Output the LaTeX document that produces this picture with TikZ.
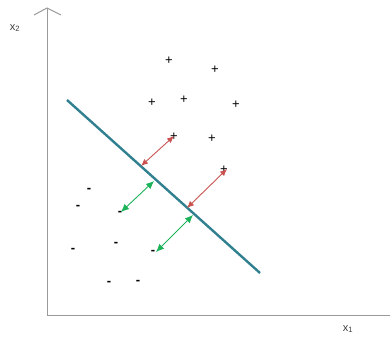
\documentclass[tikz,border=0pt]{standalone}
\usepackage{fontspec}
\setmainfont{Liberation Sans}
\usetikzlibrary{arrows.meta}
\definecolor{axisgray}{HTML}{9A9A9A}
\definecolor{teal}{HTML}{31808F}
\definecolor{redarr}{HTML}{C9524F}
\definecolor{greenarr}{HTML}{1DB35A}
\begin{document}
\begin{tikzpicture}[x=1pt,y=-1pt,
  axis/.style={draw=axisgray,line width=1pt},
  pt/.style={inner sep=0pt,font=\fontsize{13}{13}\selectfont},
  mpt/.style={inner sep=0pt,font=\fontsize{13}{13}\selectfont\bfseries},
  lbl/.style={inner sep=0pt,font=\fontsize{11}{11}\selectfont,text=black!75},
  sep/.style={draw=teal,line width=2.4pt},
  redm/.style={draw=redarr,line width=0.9pt,{Latex[length=7pt,width=6pt]}-{Latex[length=7pt,width=6pt]}},
  greenm/.style={draw=greenarr,line width=0.9pt,{Latex[length=8pt,width=7pt]}-{Latex[length=8pt,width=7pt]}}]
\useasboundingbox (0,0) rectangle (390,339);
\coordinate (o) at (47,315);
\coordinate (ytop) at (47,8);
\coordinate (xend) at (391,315);
\coordinate (yl) at (34,15);
\coordinate (yr) at (61,15);
\draw[axis] (o) -- (ytop);
\draw[axis] (yl) -- (ytop) -- (yr);
\draw[axis] (o) -- (xend);
\node[lbl] (x2) at (15,28) {x\textsubscript{2}};
\node[lbl] (x1) at (348,329) {x\textsubscript{1}};
% pluses
\node[pt] (p1) at (169,61) {+};
\node[pt] (p2) at (215,70) {+};
\node[pt] (p3) at (152,103) {+};
\node[pt] (p4) at (184,100) {+};
\node[pt] (p5) at (236,105) {+};
\node[pt] (p6) at (174,137) {+};
\node[pt] (p7) at (212,139) {+};
\node[pt] (p8) at (224,170) {+};
% minuses
\node[mpt] (m1) at (89,190) {-};
\node[mpt] (m2) at (78,207) {-};
\node[mpt] (m3) at (120,213) {-};
\node[mpt] (m4) at (116,244) {-};
\node[mpt] (m5) at (73,250) {-};
\node[mpt] (m6) at (153,252) {-};
\node[mpt] (m7) at (109,283) {-};
\node[mpt] (m8) at (138,282) {-};
% separator
\coordinate (s1) at (67,100);
\coordinate (s2) at (260,273);
\draw[sep] (s1) -- (s2);
% margins
\coordinate (r1a) at (141,166);
\coordinate (r1b) at (174,136);
\coordinate (r2a) at (187,208);
\coordinate (r2b) at (227,169);
\draw[redm] (r1a) -- (r1b);
\draw[redm] (r2a) -- (r2b);
\coordinate (g1a) at (154,181);
\coordinate (g1b) at (121,212);
\coordinate (g2a) at (193,215);
\coordinate (g2b) at (156,252);
\draw[greenm] (g1a) -- (g1b);
\draw[greenm] (g2a) -- (g2b);
\end{tikzpicture}
\end{document}
